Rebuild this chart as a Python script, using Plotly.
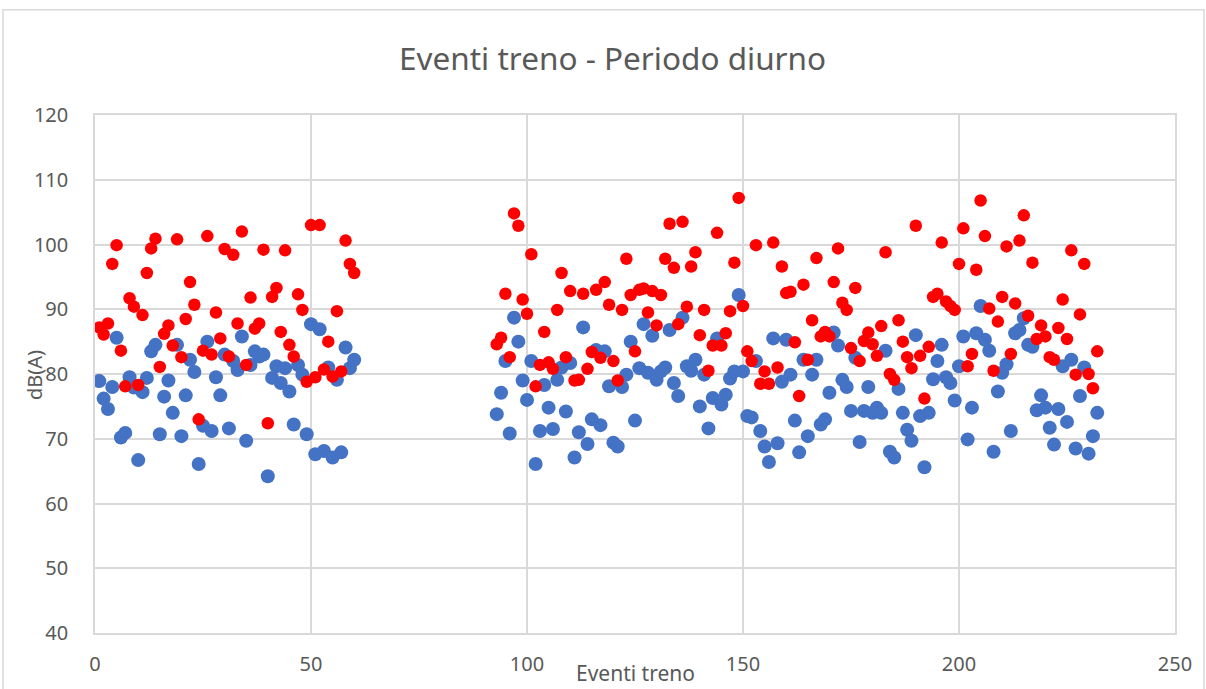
import plotly.graph_objects as go

# ---- data ----
events_a = list(range(1, 61))
blue_a = [78.9, 76.2, 74.6, 78.0, 85.6, 70.2, 70.9, 79.5, 77.9, 66.7,
          77.2, 79.4, 83.5, 84.5, 70.7, 76.5, 79.0, 74.0, 84.5, 70.4,
          76.7, 82.2, 80.3, 66.1, 72.0, 85.0, 71.2, 79.5, 76.7, 83.0,
          71.6, 82.0, 80.6, 85.8, 69.7, 81.4, 83.5, 82.7, 83.0, 64.2,
          79.4, 81.2, 78.6, 80.9, 77.3, 72.2, 81.4, 79.9, 70.7, 87.7,
          67.6, 86.9, 68.1, 81.0, 67.1, 79.1, 67.9, 84.1, 80.9, 82.2]
red_a = [87.2, 86.1, 87.8, 97.0, 99.9, 83.6, 78.1, 91.7, 90.4, 78.3,
         89.1, 95.6, 99.4, 100.9, 81.1, 86.2, 87.5, 84.4, 100.8, 82.6,
         88.5, 94.2, 90.7, 73.0, 83.6, 101.3, 83.0, 89.5, 85.5, 99.3,
         82.7, 98.4, 87.8, 102.0, 81.4, 91.8, 87.0, 87.8, 99.2, 72.4,
         91.9, 93.3, 86.5, 99.1, 84.5, 82.7, 92.3, 89.9, 78.8, 103.0,
         79.5, 103.0, 80.7, 85.0, 79.6, 89.7, 80.4, 100.6, 97.0, 95.6]

events_b = list(range(93, 233))
blue_b = [73.8, 77.1, 82.0, 70.8, 88.7, 85.0, 79.0, 76.0, 82.0, 66.1,
          71.2, 78.3, 74.8, 71.5, 79.1, 81.0, 74.2, 81.7, 67.1, 71.0,
          87.2, 69.2, 73.0, 83.7, 72.1, 83.5, 78.1, 69.4, 68.8, 78.0,
          79.9, 85.0, 72.8, 80.9, 87.7, 80.2, 85.9, 79.1, 80.4, 81.0,
          86.8, 78.6, 76.6, 88.7, 81.2, 80.5, 82.2, 75.0, 79.9, 71.6,
          76.3, 85.5, 75.3, 76.8, 79.3, 80.4, 92.2, 80.4, 73.5, 73.3,
          82.0, 71.2, 68.8, 66.4, 85.5, 69.3, 78.8, 85.3, 79.9, 72.8,
          67.9, 82.2, 70.4, 79.9, 82.2, 72.2, 73.0, 77.1, 86.4, 84.4,
          79.1, 78.0, 74.3, 82.5, 69.5, 74.3, 78.0, 74.0, 74.8, 74.0,
          83.6, 68.0, 67.1, 77.7, 74.0, 71.4, 69.7, 86.0, 73.5, 65.6,
          74.0, 79.2, 82.0, 84.5, 79.5, 78.6, 75.9, 81.2, 85.8, 69.9,
          74.8, 86.3, 90.5, 85.3, 83.6, 68.0, 77.3, 80.2, 81.5, 71.2,
          86.3, 86.8, 88.6, 84.5, 84.2, 74.4, 76.7, 74.8, 71.7, 69.1,
          74.6, 81.2, 72.6, 82.2, 68.5, 76.6, 81.0, 67.7, 70.4, 74.0]
red_b = [84.6, 85.6, 92.4, 82.6, 104.8, 102.9, 91.5, 89.3, 98.5, 78.1,
         81.4, 86.5, 81.8, 80.8, 89.9, 95.6, 82.6, 92.8, 79.0, 79.1,
         92.4, 80.8, 83.4, 93.0, 82.5, 94.2, 90.7, 82.0, 79.0, 89.9,
         97.8, 92.2, 83.5, 93.0, 93.2, 89.5, 92.8, 87.5, 92.2, 97.8,
         103.2, 96.4, 87.7, 103.5, 90.4, 96.6, 98.8, 86.0, 89.9, 80.5,
         84.4, 101.8, 84.4, 86.3, 89.7, 97.2, 107.2, 90.5, 83.5, 82.0,
         99.9, 78.5, 80.4, 78.5, 100.3, 81.0, 96.6, 92.5, 92.7, 84.9,
         76.6, 93.8, 82.2, 88.3, 97.9, 85.8, 86.5, 85.8, 94.2, 99.4,
         91.0, 89.9, 84.0, 93.3, 82.0, 85.1, 86.4, 84.6, 82.8, 87.4,
         98.8, 80.0, 79.1, 88.3, 85.0, 82.6, 80.9, 102.9, 82.8, 76.2,
         84.2, 91.9, 92.4, 100.3, 91.2, 90.5, 89.9, 97.0, 102.5, 81.2,
         83.1, 96.1, 106.8, 101.3, 90.1, 80.5, 88.1, 91.9, 99.7, 83.1,
         90.9, 100.6, 104.5, 89.0, 97.2, 85.4, 87.5, 85.8, 82.6, 82.2,
         87.1, 91.5, 85.4, 99.1, 79.9, 89.2, 97.0, 80.0, 77.8, 83.5]

x_ticks = [0, 50, 100, 150, 200, 250]
y_ticks = [40, 50, 60, 70, 80, 90, 100, 110, 120]

title_text = "Eventi treno - Periodo diurno"
x_title = "Eventi treno"
y_title = "dB(A)"

# ---- figure ----
text_col = "#595959"
grid_col = "#D9D9D9"
font_fam = "Noto Sans, Open Sans, sans-serif"

fig = go.Figure()
fig.add_trace(go.Scatter(x=events_a + events_b, y=blue_a + blue_b, mode="markers",
                         marker=dict(size=14, color="#4472C4"), name="Serie 1"))
fig.add_trace(go.Scatter(x=events_a + events_b, y=red_a + red_b, mode="markers",
                         marker=dict(size=12.5, color="#FF0000"), name="Serie 2"))

fig.update_layout(
    width=1206, height=689,
    margin=dict(l=95, r=31, t=115, b=52),
    paper_bgcolor="white", plot_bgcolor="white",
    showlegend=False,
    font=dict(family=font_fam, color=text_col, size=20),
    xaxis=dict(range=[0, 250], tickvals=x_ticks, showgrid=True, gridcolor=grid_col,
               gridwidth=1.5, zeroline=False, showline=True, linecolor=grid_col,
               linewidth=1.5, mirror=True, ticks="", ticklabelstandoff=12,
               tickfont=dict(size=20, color=text_col)),
    yaxis=dict(range=[40, 120], tickvals=y_ticks, showgrid=True, gridcolor=grid_col,
               gridwidth=1.5, zeroline=False, showline=True, linecolor=grid_col,
               linewidth=1.5, mirror=True, ticks="", ticklabelstandoff=21,
               tickfont=dict(size=20, color=text_col)),
    annotations=[
        dict(text=title_text, xref="paper", yref="paper", x=(612 - 95) / 1080, y=(637 - 57) / 522,
             xanchor="center", yanchor="middle", showarrow=False,
             font=dict(size=31.5, color=text_col, family=font_fam)),
        dict(text=x_title, xref="paper", yref="paper", x=0.5, y=(637 - 677) / 522,
             xanchor="center", yanchor="middle", showarrow=False,
             font=dict(size=21, color=text_col, family=font_fam)),
        dict(text=y_title, xref="paper", yref="paper", x=(35 - 95) / 1080, y=(637 - 377) / 522,
             xanchor="center", yanchor="middle", showarrow=False, textangle=-90,
             font=dict(size=20, color=text_col, family=font_fam)),
    ],
    shapes=[
        dict(type="rect", xref="paper", yref="paper",
             x0=(3 - 95) / 1080, x1=(1204 - 95) / 1080,
             y0=(637 - 700) / 522, y1=(637 - 9) / 522,
             line=dict(color="#D9D9D9", width=1.5), fillcolor="rgba(0,0,0,0)", layer="below"),
    ],
)

fig.write_html("out.html", config={"displayModeBar": False},
               post_script="document.body.style.margin='0';document.body.style.padding='0';"
                           "document.body.style.overflow='hidden';")
